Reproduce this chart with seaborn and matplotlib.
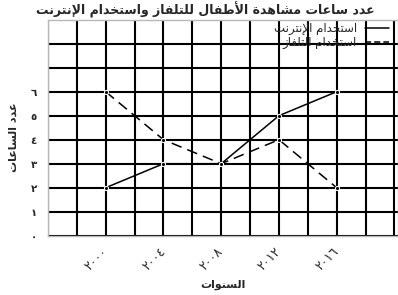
import matplotlib
matplotlib.use("Agg")
import matplotlib.pyplot as plt
from matplotlib.lines import Line2D
from matplotlib.ticker import MultipleLocator, FixedLocator
from matplotlib.transforms import ScaledTranslation
import seaborn as sns
import pandas as pd

# ---------------- data ----------------
years = [2000, 2004, 2008, 2012, 2016]
year_labels = ["٢٠٠٠", "٢٠٠٤", "٢٠٠٨", "٢٠١٢", "٢٠١٦"]
internet_hours = [2, 3, 3, 5, 6]
tv_hours = [6, 4, 3, 4, 2]
series_names = ["استخدام الإنترنت", "استخدام التلفاز"]
y_ticks = [0, 1, 2, 3, 4, 5, 6, 7, 8]
y_tick_labels = ["٠", "١", "٢", "٣", "٤", "٥", "٦", "", ""]
title_text = "عدد ساعات مشاهدة الأطفال للتلفاز واستخدام الإنترنت"
xlabel_text = "السنوات"
ylabel_text = "عدد الساعات"

# ------------- minimal Arabic shaping (presentation forms + RTL order) -------------
_TWO = {'آ': 0xFE81, 'أ': 0xFE83, 'ؤ': 0xFE85, 'إ': 0xFE87, 'ا': 0xFE8D, 'ة': 0xFE93,
        'د': 0xFEA9, 'ذ': 0xFEAB, 'ر': 0xFEAD, 'ز': 0xFEAF, 'و': 0xFEED, 'ى': 0xFEEF}
_FOUR = {'ئ': 0xFE89, 'ب': 0xFE8F, 'ت': 0xFE95, 'ث': 0xFE99, 'ج': 0xFE9D, 'ح': 0xFEA1,
         'خ': 0xFEA5, 'س': 0xFEB1, 'ش': 0xFEB5, 'ص': 0xFEB9, 'ض': 0xFEBD, 'ط': 0xFEC1,
         'ظ': 0xFEC5, 'ع': 0xFEC9, 'غ': 0xFECD, 'ف': 0xFED1, 'ق': 0xFED5, 'ك': 0xFED9,
         'ل': 0xFEDD, 'م': 0xFEE1, 'ن': 0xFEE5, 'ه': 0xFEE9, 'ي': 0xFEF1}
_LAMALEF = {'آ': 0xFEF5, 'أ': 0xFEF7, 'إ': 0xFEF9, 'ا': 0xFEFB}


def shape(s):
    units = []
    i = 0
    while i < len(s):
        c = s[i]
        if c == 'ل' and i + 1 < len(s) and s[i + 1] in _LAMALEF:
            units.append(('LA', s[i + 1]))
            i += 2
        else:
            units.append(('C', c))
            i += 1

    def joins_left(u):
        return u[0] == 'C' and u[1] in _FOUR

    def is_joining(u):
        return u[0] == 'LA' or u[1] in _FOUR or u[1] in _TWO

    out = []
    for k, u in enumerate(units):
        prev = units[k - 1] if k > 0 else None
        nxt = units[k + 1] if k + 1 < len(units) else None
        jp = prev is not None and joins_left(prev) and is_joining(u)
        jn = joins_left(u) and nxt is not None and is_joining(nxt)
        if u[0] == 'LA':
            out.append(chr(_LAMALEF[u[1]] + (1 if jp else 0)))
        elif u[1] in _FOUR:
            b = _FOUR[u[1]]
            out.append(chr(b + (3 if (jp and jn) else 2 if jn else 1 if jp else 0)))
        elif u[1] in _TWO:
            out.append(chr(_TWO[u[1]] + (1 if jp else 0)))
        else:
            out.append(u[1])
    return ''.join(reversed(out))


# ---------------- plot ----------------
sns.set_theme(style="white")
plt.rcParams['font.family'] = ['DejaVu Sans']

df = pd.DataFrame({
    "year": years * 2,
    "hours": internet_hours + tv_hours,
    "series": [series_names[0]] * len(years) + [series_names[1]] * len(years),
})

fig = plt.figure(figsize=(3.98, 2.95), dpi=100)
ax = fig.add_axes([48 / 398, 1 - 235.7 / 295, 1 - 48 / 398, (235.7 - 19.7) / 295])

sns.lineplot(data=df, x="year", y="hours", hue="series", style="series",
             palette=["black", "black"],
             dashes={series_names[0]: "", series_names[1]: (7, 4)},
             markers={series_names[0]: "o", series_names[1]: "o"},
             markersize=3, linewidth=1.1, ax=ax, legend=False, zorder=3)

ax.set_xlim(1996, 2020.25)
ax.set_ylim(0, 9)
ax.xaxis.set_major_locator(FixedLocator(years))
ax.xaxis.set_minor_locator(MultipleLocator(2))
ax.yaxis.set_major_locator(FixedLocator(y_ticks))
ax.set_yticklabels(y_tick_labels, fontsize=7.5, fontweight="bold")
ax.set_xticklabels(year_labels, fontsize=9, rotation=45, ha="right",
                   va="center", rotation_mode="anchor")
shift = ScaledTranslation(-4 / 100, 0, fig.dpi_scale_trans)
for lbl in ax.get_xticklabels():
    lbl.set_transform(lbl.get_transform() + shift)
ax.tick_params(axis="both", which="both", length=0)
ax.tick_params(axis="x", pad=10)
ax.tick_params(axis="y", pad=8)

ax.grid(True, which="both", color="black", linewidth=1.5)
ax.set_axisbelow(True)
for sp in ax.spines.values():
    sp.set_color("#b8b8b8")
    sp.set_linewidth(1.0)

ax.set_xlabel(shape(xlabel_text), fontsize=8, fontweight="bold", labelpad=5)
ax.set_ylabel(shape(ylabel_text), fontsize=8, fontweight="bold")
ax.yaxis.set_label_coords(-0.085, 0.455)
fig.text(205 / 398, 1 - 10 / 295, shape(title_text), fontsize=9, fontweight="bold",
         ha="center", va="center")

handles = [Line2D([], [], color="black", linewidth=1.1),
           Line2D([], [], color="black", linewidth=1.1, linestyle=(0, (4, 2)))]
ax.legend(handles, [shape(n) for n in series_names], loc="upper right",
          bbox_to_anchor=(0.99, 1.015), frameon=False, markerfirst=False,
          fontsize=8.5, handlelength=2.0, handletextpad=0.7, labelspacing=0.05,
          borderaxespad=0.1)

fig.savefig("out.png", dpi=100)
